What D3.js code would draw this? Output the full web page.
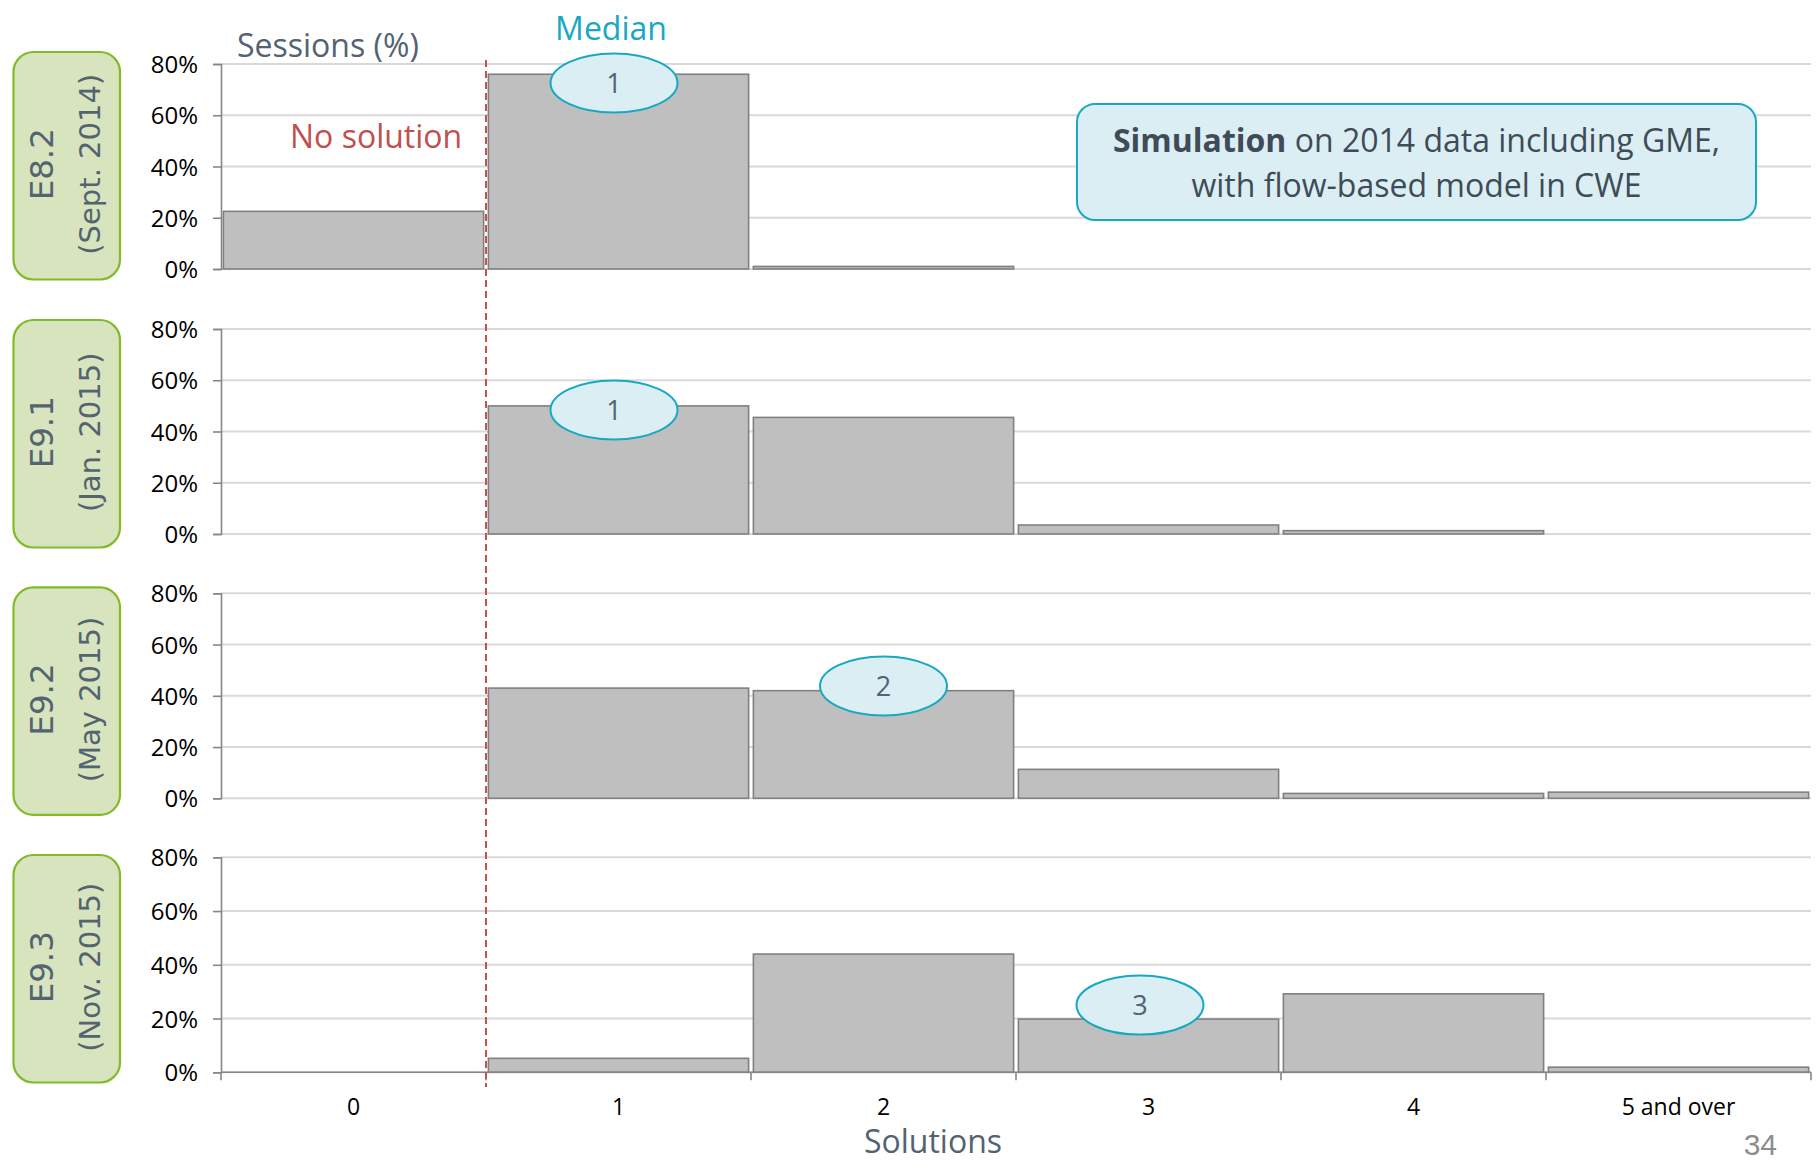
<!DOCTYPE html>
<html>
<head>
<meta charset="utf-8">
<script src="https://cdn.jsdelivr.net/npm/d3@7"></script>
<style>
  html, body { margin: 0; padding: 0; background: #ffffff; }
  svg { display: block; }
</style>
</head>
<body>
<svg id="chart" width="1816" height="1161"></svg>
<script>
// ---------- data ----------
const categories = ["0", "1", "2", "3", "4", "5 and over"];
const panelNames = ["E8.2", "E9.1", "E9.2", "E9.3"];
const panelDates = ["(Sept. 2014)", "(Jan. 2015)", "(May 2015)", "(Nov. 2015)"];
const valuesE82 = [22.5, 76, 1, 0, 0, 0];
const valuesE91 = [0, 50, 45.5, 3.5, 1.3, 0];
const valuesE92 = [0, 43, 42, 11.3, 1.9, 2.4];
const valuesE93 = [0, 5.2, 44, 19.8, 29.2, 1.9];
const medianCategory = ["1", "1", "2", "3"];
const medianLabel = ["1", "1", "2", "3"];
const medianMarkerY = [72.6, 48.4, 43.8, 25];   // where the median bubble sits (in %)
const yTicks = [0, 20, 40, 60, 80];
const yTickLabels = ["0%", "20%", "40%", "60%", "80%"];

const allValues = [valuesE82, valuesE91, valuesE92, valuesE93];

// ---------- layout ----------
const svg = d3.select("#chart");
const FONT = "'Open Sans', sans-serif";
const SLATE = "#536372";
const plotLeft = 221, plotRight = 1811;
const panelTop = [64, 329, 593.3, 857.3];
const panelBottom = [269, 534, 798.3, 1072.3];
const boxTop = [52, 320, 587.3, 855];
const boxH = 227.5;
const bubbleShift = [-4.5, -4.5, 0, -8.5];

const x = d3.scaleBand().domain(categories).range([plotLeft, plotRight])
  .paddingInner(0.018).paddingOuter(0.009);
const step = x.step();
const boundary = c => x(c) - step * 0.018 / 2;

allValues.forEach((vals, i) => {
  const y = d3.scaleLinear().domain([0, 80]).range([panelBottom[i], panelTop[i]]);
  const g = svg.append("g");

  // gridlines
  g.append("g").selectAll("line").data(yTicks).join("line")
    .attr("x1", plotLeft).attr("x2", plotRight)
    .attr("y1", d => y(d)).attr("y2", d => y(d))
    .attr("stroke", "#d9d9d9").attr("stroke-width", 2);

  // y axis
  const yAxis = d3.axisLeft(y).tickValues(yTicks)
    .tickFormat((d, k) => yTickLabels[k]).tickSize(8).tickPadding(15);
  const ya = g.append("g").attr("transform", `translate(${plotLeft},0)`).call(yAxis);
  ya.select(".domain").attr("stroke", "#868686").attr("stroke-width", 1.6);
  ya.selectAll(".tick line").attr("stroke", "#868686").attr("stroke-width", 1.6);
  ya.selectAll(".tick text").attr("font-family", FONT).attr("font-size", 24)
    .attr("fill", "#000").attr("dy", "0.36em");

  // bars
  const data = categories.map((c, k) => ({c, v: vals[k]})).filter(d => d.v > 0);
  g.append("g").selectAll("rect").data(data).join("rect")
    .attr("x", d => x(d.c)).attr("width", x.bandwidth())
    .attr("y", d => y(d.v)).attr("height", d => y(0) - y(d.v))
    .attr("fill", "#bfbfbf").attr("stroke", "#808080").attr("stroke-width", 1.6);

  // x axis for the last panel
  if (i === allValues.length - 1) {
    const xa = g.append("g").attr("transform", `translate(0,${y(0)})`);
    xa.append("line").attr("x1", plotLeft).attr("x2", plotRight)
      .attr("stroke", "#868686").attr("stroke-width", 1.6);
    const bnds = categories.map(c => boundary(c)).concat([plotRight]);
    xa.selectAll("line.tk").data(bnds).join("line").attr("class", "tk")
      .attr("x1", d => d).attr("x2", d => d).attr("y1", 0).attr("y2", 8)
      .attr("stroke", "#868686").attr("stroke-width", 1.6);
    xa.selectAll("text").data(categories).join("text")
      .attr("x", d => x(d) + x.bandwidth() / 2).attr("y", 43)
      .attr("text-anchor", "middle").attr("font-family", FONT)
      .attr("font-size", 23).attr("fill", "#000").text(d => d);
  }

  // median bubble
  const mx = x(medianCategory[i]) + x.bandwidth() / 2 + bubbleShift[i];
  const my = y(medianMarkerY[i]);
  g.append("ellipse").attr("cx", mx).attr("cy", my).attr("rx", 63.5).attr("ry", 29.5)
    .attr("fill", "#daeef3").attr("stroke", "#17a9c1").attr("stroke-width", 2);
  g.append("text").attr("x", mx).attr("y", my).attr("dy", "0.36em")
    .attr("text-anchor", "middle").attr("font-family", FONT).attr("font-size", 27)
    .attr("fill", SLATE).text(medianLabel[i]);

  // left label box
  const lb = svg.append("g");
  lb.append("rect").attr("x", 13.5).attr("y", boxTop[i]).attr("width", 106.5).attr("height", boxH)
    .attr("rx", 20).attr("ry", 20)
    .attr("fill", "#d8e4bd").attr("stroke", "#82ba2a").attr("stroke-width", 2.2);
  const cy = boxTop[i] + boxH / 2 - 1.5;
  lb.append("text").attr("transform", `translate(53,${cy}) rotate(-90)`)
    .attr("text-anchor", "middle").attr("font-family", "'DejaVu Sans', sans-serif")
    .attr("font-size", 32.5).attr("fill", SLATE).text(panelNames[i]);
  lb.append("text").attr("transform", `translate(100,${cy}) rotate(-90)`)
    .attr("text-anchor", "middle").attr("font-family", "'DejaVu Sans', sans-serif")
    .attr("font-size", 29).attr("fill", SLATE).text(panelDates[i]);
});

// dashed "no solution" separator
svg.append("line").attr("x1", boundary("1")).attr("x2", boundary("1"))
  .attr("y1", 60).attr("y2", 1087)
  .attr("stroke", "#c9504d").attr("stroke-width", 2).attr("stroke-dasharray", "7,4");

// headers
svg.append("text").attr("x", 237).attr("y", 57).attr("font-family", FONT)
  .attr("font-size", 32).attr("fill", SLATE).text("Sessions (%)");
svg.append("text").attr("x", 611).attr("y", 40).attr("text-anchor", "middle")
  .attr("font-family", FONT).attr("font-size", 32).attr("fill", "#17a9c1").text("Median");
svg.append("text").attr("x", 290).attr("y", 148).attr("font-family", FONT)
  .attr("font-size", 32).attr("fill", "#c0504d").text("No solution");

// simulation note box
svg.append("rect").attr("x", 1077).attr("y", 104).attr("width", 679).attr("height", 116)
  .attr("rx", 18).attr("ry", 18)
  .attr("fill", "#daeef3").attr("stroke", "#17a9c1").attr("stroke-width", 2);
const note = svg.append("text").attr("text-anchor", "middle").attr("font-family", FONT)
  .attr("font-size", 32).attr("fill", "#3f4b57");
const l1 = note.append("tspan").attr("x", 1416.5).attr("y", 152);
l1.append("tspan").attr("font-weight", "bold").text("Simulation");
l1.append("tspan").text(" on 2014 data including GME,");
note.append("tspan").attr("x", 1416.5).attr("y", 197).text("with flow-based model in CWE");

// x axis title and page number
svg.append("text").attr("x", 933).attr("y", 1153).attr("text-anchor", "middle")
  .attr("font-family", FONT).attr("font-size", 32).attr("fill", SLATE).text("Solutions");
svg.append("text").attr("x", 1777).attr("y", 1155).attr("text-anchor", "end")
  .attr("font-family", "'Liberation Sans', Arial, sans-serif").attr("font-size", 30)
  .attr("fill", "#8c8c8c").text("34");
</script>
</body>
</html>
